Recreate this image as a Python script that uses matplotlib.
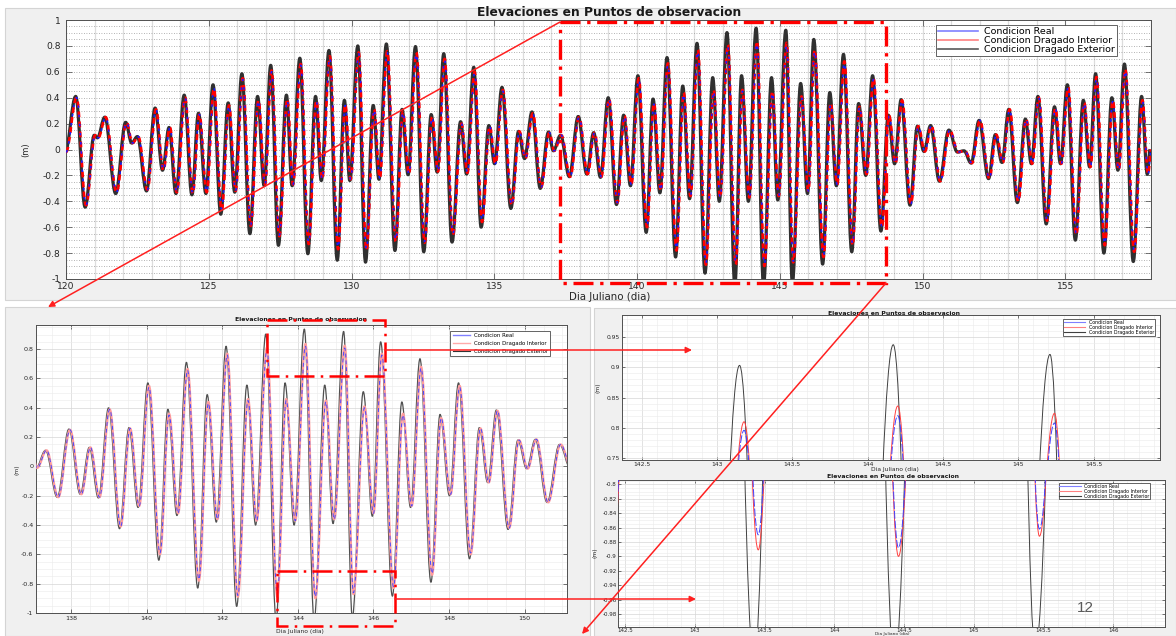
import matplotlib.pyplot as plt
from matplotlib.path import Path
from matplotlib.patches import PathPatch, Rectangle
from matplotlib.lines import Line2D
from matplotlib.ticker import MultipleLocator, FuncFormatter

# picos y valles de las tres series: dia juliano y elevacion (m)
dia = [120.00, 120.37, 120.70, 121.02, 121.13, 121.39, 121.77, 122.12, 122.33, 122.53,
       122.85, 123.15, 123.41, 123.64, 123.88, 124.17, 124.44, 124.67, 124.93, 125.18,
       125.45, 125.71, 125.94, 126.19, 126.47, 126.74, 126.97, 127.20, 127.47, 127.75,
       127.95, 128.22, 128.50, 128.77, 128.97, 129.24, 129.53, 129.78, 129.97, 130.25,
       130.52, 130.79, 130.99, 131.25, 131.55, 131.80, 132.01, 132.27, 132.56, 132.82,
       133.03, 133.26, 133.55, 133.85, 134.06, 134.31, 134.57, 134.84, 135.04, 135.30,
       135.61, 135.88, 136.09, 136.35, 136.64, 136.93, 137.10, 137.35, 137.66, 137.97,
       138.27, 138.51, 138.75, 139.02, 139.31, 139.56, 139.80, 140.06, 140.35, 140.59,
       140.83, 141.08, 141.38, 141.63, 141.87, 142.13, 142.41, 142.68, 142.91, 143.18,
       143.455, 143.69, 143.93, 144.20, 144.46, 144.74, 144.96, 145.24, 145.47, 145.76,
       146.00, 146.22, 146.53, 146.78, 147.01, 147.26, 147.55, 147.79, 148.04, 148.28,
       148.57, 148.83, 149.05, 149.28, 149.59, 149.85, 150.08, 150.31, 150.62, 150.95,
       151.25, 151.48, 151.73, 152.01, 152.34, 152.58, 152.81, 153.05, 153.35, 153.63,
       153.84, 154.07, 154.36, 154.65, 154.86, 155.10, 155.38, 155.66, 155.88, 156.09,
       156.38, 156.66, 156.87, 157.10, 157.41, 157.70, 157.90, 158.00]

exterior = [-0.02, 0.41, -0.445, 0.11, 0.09, 0.25, -0.34, 0.21, 0.05, 0.10,
            -0.32, 0.32, -0.16, 0.17, -0.34, 0.42, -0.35, 0.28, -0.34, 0.50,
            -0.50, 0.36, -0.33, 0.585, -0.65, 0.41, -0.28, 0.65, -0.74, 0.42,
            -0.28, 0.705, -0.805, 0.41, -0.24, 0.765, -0.855, 0.38, -0.24, 0.80,
            -0.87, 0.34, -0.23, 0.815, -0.78, 0.31, -0.195, 0.795, -0.79, 0.27,
            -0.175, 0.74, -0.715, 0.215, -0.19, 0.635, -0.60, 0.185, -0.11, 0.48,
            -0.455, 0.14, -0.07, 0.29, -0.30, 0.135, -0.01, 0.11, -0.21, 0.255,
            -0.19, 0.13, -0.215, 0.40, -0.425, 0.265, -0.28, 0.57, -0.64, 0.39,
            -0.335, 0.71, -0.83, 0.49, -0.38, 0.82, -0.955, 0.555, -0.40, 0.903,
            -1.05, 0.57, -0.40, 0.937, -1.05, 0.555, -0.39, 0.921, -1.03, 0.51,
            -0.34, 0.85, -0.885, 0.44, -0.28, 0.735, -0.79, 0.355, -0.20, 0.57,
            -0.63, 0.265, -0.11, 0.385, -0.43, 0.18, -0.015, 0.185, -0.245, 0.15,
            -0.02, -0.01, -0.105, 0.225, -0.225, 0.115, -0.10, 0.31, -0.41, 0.235,
            -0.11, 0.41, -0.575, 0.33, -0.11, 0.50, -0.70, 0.38, -0.135, 0.585,
            -0.80, 0.40, -0.16, 0.66, -0.865, 0.41, -0.19, 0.00]

interior = [-0.02, 0.40, -0.43, 0.11, 0.09, 0.25, -0.33, 0.21, 0.05, 0.10,
            -0.31, 0.31, -0.16, 0.17, -0.33, 0.40, -0.34, 0.27, -0.33, 0.47,
            -0.47, 0.34, -0.32, 0.55, -0.59, 0.38, -0.27, 0.61, -0.67, 0.39,
            -0.27, 0.66, -0.73, 0.38, -0.23, 0.72, -0.77, 0.35, -0.23, 0.75,
            -0.78, 0.31, -0.22, 0.76, -0.71, 0.29, -0.19, 0.75, -0.72, 0.25,
            -0.17, 0.70, -0.66, 0.20, -0.18, 0.60, -0.56, 0.18, -0.11, 0.46,
            -0.43, 0.14, -0.07, 0.28, -0.29, 0.13, -0.01, 0.11, -0.21, 0.25,
            -0.19, 0.13, -0.21, 0.39, -0.41, 0.26, -0.27, 0.55, -0.60, 0.36,
            -0.32, 0.665, -0.78, 0.44, -0.36, 0.77, -0.89, 0.46, -0.37, 0.81,
            -0.891, 0.46, -0.37, 0.836, -0.90, 0.45, -0.36, 0.824, -0.872, 0.41,
            -0.32, 0.77, -0.83, 0.36, -0.27, 0.68, -0.74, 0.33, -0.19, 0.55,
            -0.60, 0.26, -0.11, 0.38, -0.42, 0.18, -0.015, 0.185, -0.245, 0.15,
            -0.02, -0.01, -0.105, 0.225, -0.225, 0.115, -0.10, 0.31, -0.40, 0.235,
            -0.11, 0.40, -0.55, 0.32, -0.11, 0.48, -0.66, 0.36, -0.135, 0.56,
            -0.74, 0.38, -0.16, 0.62, -0.79, 0.38, -0.19, 0.00]

real = [-0.02, 0.40, -0.43, 0.11, 0.09, 0.25, -0.33, 0.21, 0.05, 0.10,
        -0.31, 0.31, -0.16, 0.17, -0.33, 0.40, -0.34, 0.27, -0.33, 0.47,
        -0.46, 0.34, -0.32, 0.54, -0.58, 0.38, -0.27, 0.60, -0.66, 0.38,
        -0.27, 0.65, -0.72, 0.37, -0.23, 0.71, -0.76, 0.34, -0.23, 0.74,
        -0.77, 0.31, -0.22, 0.75, -0.70, 0.29, -0.19, 0.74, -0.71, 0.25,
        -0.17, 0.69, -0.65, 0.20, -0.18, 0.59, -0.55, 0.18, -0.11, 0.45,
        -0.43, 0.14, -0.07, 0.28, -0.29, 0.13, -0.01, 0.11, -0.21, 0.25,
        -0.19, 0.13, -0.21, 0.39, -0.41, 0.26, -0.27, 0.54, -0.59, 0.35,
        -0.32, 0.655, -0.77, 0.43, -0.36, 0.76, -0.88, 0.45, -0.37, 0.796,
        -0.87, 0.45, -0.37, 0.82, -0.888, 0.44, -0.36, 0.808, -0.862, 0.40,
        -0.32, 0.76, -0.82, 0.35, -0.27, 0.67, -0.73, 0.33, -0.19, 0.54,
        -0.59, 0.26, -0.11, 0.38, -0.42, 0.18, -0.015, 0.185, -0.245, 0.15,
        -0.02, -0.01, -0.105, 0.225, -0.225, 0.115, -0.10, 0.31, -0.40, 0.235,
        -0.11, 0.40, -0.55, 0.32, -0.11, 0.48, -0.65, 0.36, -0.135, 0.55,
        -0.73, 0.37, -0.16, 0.61, -0.78, 0.38, -0.19, 0.00]

# la condicion exterior va un poco adelantada (se ve en los zooms de la derecha)
adelanto_ext = 0.03

nombres = ["Condicion Real", "Condicion Dragado Interior", "Condicion Dragado Exterior"]
titulo = "Elevaciones en Puntos de observacion"
eje_x = "Dia Juliano (dia)"
eje_y = "(m)"

xt_general = [120, 125, 130, 135, 140, 145, 150, 155]
yt_general = [-1, -0.8, -0.6, -0.4, -0.2, 0, 0.2, 0.4, 0.6, 0.8, 1]
xt_detalle = [138, 140, 142, 144, 146, 148, 150]
yt_detalle = [-1, -0.8, -0.6, -0.4, -0.2, 0, 0.2, 0.4, 0.6, 0.8]
xt_picos = [142.5, 143, 143.5, 144, 144.5, 145, 145.5]
yt_picos = [0.75, 0.8, 0.85, 0.9, 0.95]
xt_valles = [142.5, 143, 143.5, 144, 144.5, 145, 145.5, 146]
yt_valles = [-0.98, -0.96, -0.94, -0.92, -0.9, -0.88, -0.86, -0.84, -0.82, -0.8]

W, H = 1176, 636
K = 0.368  # asas de bezier para que cada tramo parezca medio coseno


def caja(x0, y0, x1, y1):
    return [x0 / W, 1 - y1 / H, (x1 - x0) / W, (y1 - y0) / H]


def texto(x, y, s, va="center", **kw):
    fig.text(x / W, 1 - y / H, s, ha="center", va=va, **kw)


def curva(ax, t, v, **kw):
    verts = [(t[0], v[0])]
    codes = [Path.MOVETO]
    for i in range(len(t) - 1):
        d = t[i + 1] - t[i]
        verts += [(t[i] + K * d, v[i]), (t[i + 1] - K * d, v[i + 1]), (t[i + 1], v[i + 1])]
        codes += [Path.CURVE4] * 3
    ax.add_patch(PathPatch(Path(verts, codes), fill=False, joinstyle="round", **kw))


def etiqueta(v, pos):
    s = f"{round(v, 4):g}"
    return "0" if s == "-0" else s


def ejes(ax, xlim, ylim, xt, yt, xmen, ymen, fs, largo, pad):
    ax.set_xlim(*xlim)
    ax.set_ylim(*ylim)
    ax.set_xticks(xt)
    ax.set_yticks(yt)
    ax.xaxis.set_minor_locator(MultipleLocator(xmen))
    ax.yaxis.set_minor_locator(MultipleLocator(ymen))
    ax.xaxis.set_major_formatter(FuncFormatter(etiqueta))
    ax.yaxis.set_major_formatter(FuncFormatter(etiqueta))
    ax.tick_params(which="major", direction="in", length=largo, width=0.5,
                   colors="#404040", labelcolor="#262626", labelsize=fs,
                   top=True, right=True, pad=pad)
    ax.tick_params(which="minor", length=0)
    ax.set_axisbelow(True)
    for s in ax.spines.values():
        s.set_color("#505050")
        s.set_linewidth(0.7)


def leyenda(ax, colores, anchos, ancla, fs, esp, largo, borde):
    h = [Line2D([0], [0], color=c, lw=w) for c, w in zip(colores, anchos)]
    leg = ax.legend(h, nombres, loc="upper right", bbox_to_anchor=ancla, fontsize=fs,
                    fancybox=False, framealpha=1, edgecolor="#262626",
                    labelspacing=esp, handlelength=largo, handletextpad=0.7,
                    borderpad=borde, borderaxespad=0)
    leg.get_frame().set_linewidth(0.5)


t_ext = [t - adelanto_ext for t in dia]

fig = plt.figure(figsize=(W / 100, H / 100), dpi=100)
fig.patch.set_facecolor("white")

# fondos grises de las capturas
bg = fig.add_axes([0, 0, 1, 1], zorder=-1)
bg.set_xlim(0, W)
bg.set_ylim(H, 0)
bg.axis("off")
for x0, y0, x1, y1 in [(5, 8, 1176, 300), (5, 307, 590, 636), (594, 308, 1176, 636)]:
    bg.add_patch(Rectangle((x0, y0), x1 - x0, y1 - y0, facecolor="#f0f0f0",
                           edgecolor="#d4d4d4", lw=0.8))

# panel general
ax1 = fig.add_axes(caja(66, 20, 1151, 279))
curva(ax1, t_ext, exterior, color="#303030", lw=2.3, zorder=2)
curva(ax1, dia, interior, color="#ff0000", lw=1.9, ls=(0, (2.2, 1.6)), zorder=3)
curva(ax1, dia, real, color="#1a1aff", lw=1.2, ls=(0, (1.5, 4)), zorder=4)
ejes(ax1, (120, 158), (-1, 1), xt_general, yt_general, 1, 0.05, 6.6, 4, 2.4)
ax1.tick_params(axis="y", pad=4)
ax1.grid(which="both", axis="x", color="#dcdcdc", lw=0.9, ls="-")
ax1.grid(which="both", axis="y", color="#9a9a9a", lw=0.6, ls=(0, (1, 2)))
leyenda(ax1, ["#8080ff", "#ff8080", "#595959"], [1.2, 1.2, 1.2],
        (0.9687, 0.9807), 6.8, 0.0, 4.2, 0.2)
texto(609, 12.5, titulo, fontsize=8.8, fontweight="bold", color="#1a1a1a")
texto(610, 296.5, eje_x, fontsize=7.4, color="#262626")
texto(26, 150, eje_y, fontsize=6, rotation=90, color="#262626")

# panel ampliado abajo a la izquierda
ax2 = fig.add_axes(caja(36, 325, 567, 613))
curva(ax2, t_ext, exterior, color="#505050", lw=0.9, zorder=2)
curva(ax2, dia, interior, color="#ff9c9c", lw=1.6, zorder=3)
curva(ax2, dia, real, color="#4848ff", lw=0.7, ls=(0, (4, 3)), zorder=4)
ejes(ax2, (137.07, 151.12), (-1, 0.965), xt_detalle, yt_detalle, 0.5, 0.05, 4.6, 3, 1.8)
ax2.grid(which="major", color="#d6d6d6", lw=0.5)
ax2.grid(which="minor", color="#ebebeb", lw=0.4)
leyenda(ax2, ["#8080ff", "#ffaaaa", "#333333"], [1.0, 1.0, 0.8],
        (0.968, 0.979), 3.9, 0.55, 3.2, 0.4)
texto(301, 319, titulo, fontsize=4.4, fontweight="bold", color="#1a1a1a")
texto(300, 631, eje_x, fontsize=4.3, color="#262626")
texto(17, 470, eje_y, fontsize=4.3, rotation=90, color="#262626")

# zoom de los picos
ax3 = fig.add_axes(caja(622, 315, 1160, 460))
curva(ax3, t_ext, exterior, color="#404040", lw=0.7, zorder=2)
curva(ax3, dia, interior, color="#ff4040", lw=0.7, zorder=3)
curva(ax3, dia, real, color="#4040ff", lw=0.7, ls=(0, (8, 2)), zorder=4)
ejes(ax3, (142.37, 145.94), (0.747, 0.986), xt_picos, yt_picos, 0.1, 0.01, 4.3, 2, 1.2)
ax3.grid(which="major", color="#d6d6d6", lw=0.5)
ax3.grid(which="minor", color="#ebebeb", lw=0.4)
leyenda(ax3, ["#8080ff", "#ff8080", "#404040"], [0.8, 0.8, 0.8],
        (0.99, 0.97), 3.4, 0.0, 4.5, 0.15)
texto(894, 313, titulo, fontsize=4.4, fontweight="bold", color="#1a1a1a")
texto(895, 470, eje_x, fontsize=4.3, color="#262626")
texto(598, 388, eje_y, fontsize=4.3, rotation=90, color="#262626")

# zoom de los valles
ax4 = fig.add_axes(caja(618, 480, 1165, 627))
curva(ax4, t_ext, exterior, color="#404040", lw=0.7, zorder=2)
curva(ax4, dia, interior, color="#ff4040", lw=0.7, zorder=3)
curva(ax4, dia, real, color="#4040ff", lw=0.7, ls=(0, (8, 2)), zorder=4)
ejes(ax4, (142.45, 146.37), (-0.998, -0.794), xt_valles, yt_valles, 0.1, 0.005, 4.0, 2, 0.8)
ax4.grid(which="major", color="#d6d6d6", lw=0.5)
ax4.grid(which="minor", color="#ebebeb", lw=0.4)
leyenda(ax4, ["#8080ff", "#ff8080", "#404040"], [0.8, 0.8, 0.8],
        (0.9726, 0.98), 3.4, 0.0, 4.5, 0.15)
texto(893, 477, titulo, fontsize=4.4, fontweight="bold", color="#1a1a1a")
texto(892, 635.5, eje_x, va="bottom", fontsize=3.2, color="#262626")
texto(595, 553, eje_y, fontsize=4.3, rotation=90, color="#262626")

# marcas rojas del montaje
ov = fig.add_axes([0, 0, 1, 1], zorder=20)
ov.set_xlim(0, W)
ov.set_ylim(H, 0)
ov.axis("off")
ov.patch.set_alpha(0)
ov.add_patch(Rectangle((560, 22), 326, 261, fill=False, ec="#ff0000", lw=2.4,
                       ls=(0, (6, 2, 1, 2))))
for x0, y0, x1, y1 in [(267, 320, 385, 376), (277, 571, 395, 626)]:
    ov.add_patch(Rectangle((x0, y0), x1 - x0, y1 - y0, fill=False, ec="#ff0000",
                           lw=1.8, ls=(0, (8, 2.5, 1, 2.5))))
flecha = dict(arrowstyle="-|>", color="#ff2020", lw=1.1, mutation_scale=9,
              shrinkA=0, shrinkB=0)
for ini, fin in [((560, 22), (48, 307)), ((886, 283), (582, 634)),
                 ((385, 350), (692, 350)), ((395, 599), (696, 599))]:
    ov.annotate("", xy=fin, xytext=ini, arrowprops=flecha)

texto(1085, 608, "12", fontsize=11, color="#595959", family="Liberation Sans")

fig.savefig("out.png", dpi=100)
